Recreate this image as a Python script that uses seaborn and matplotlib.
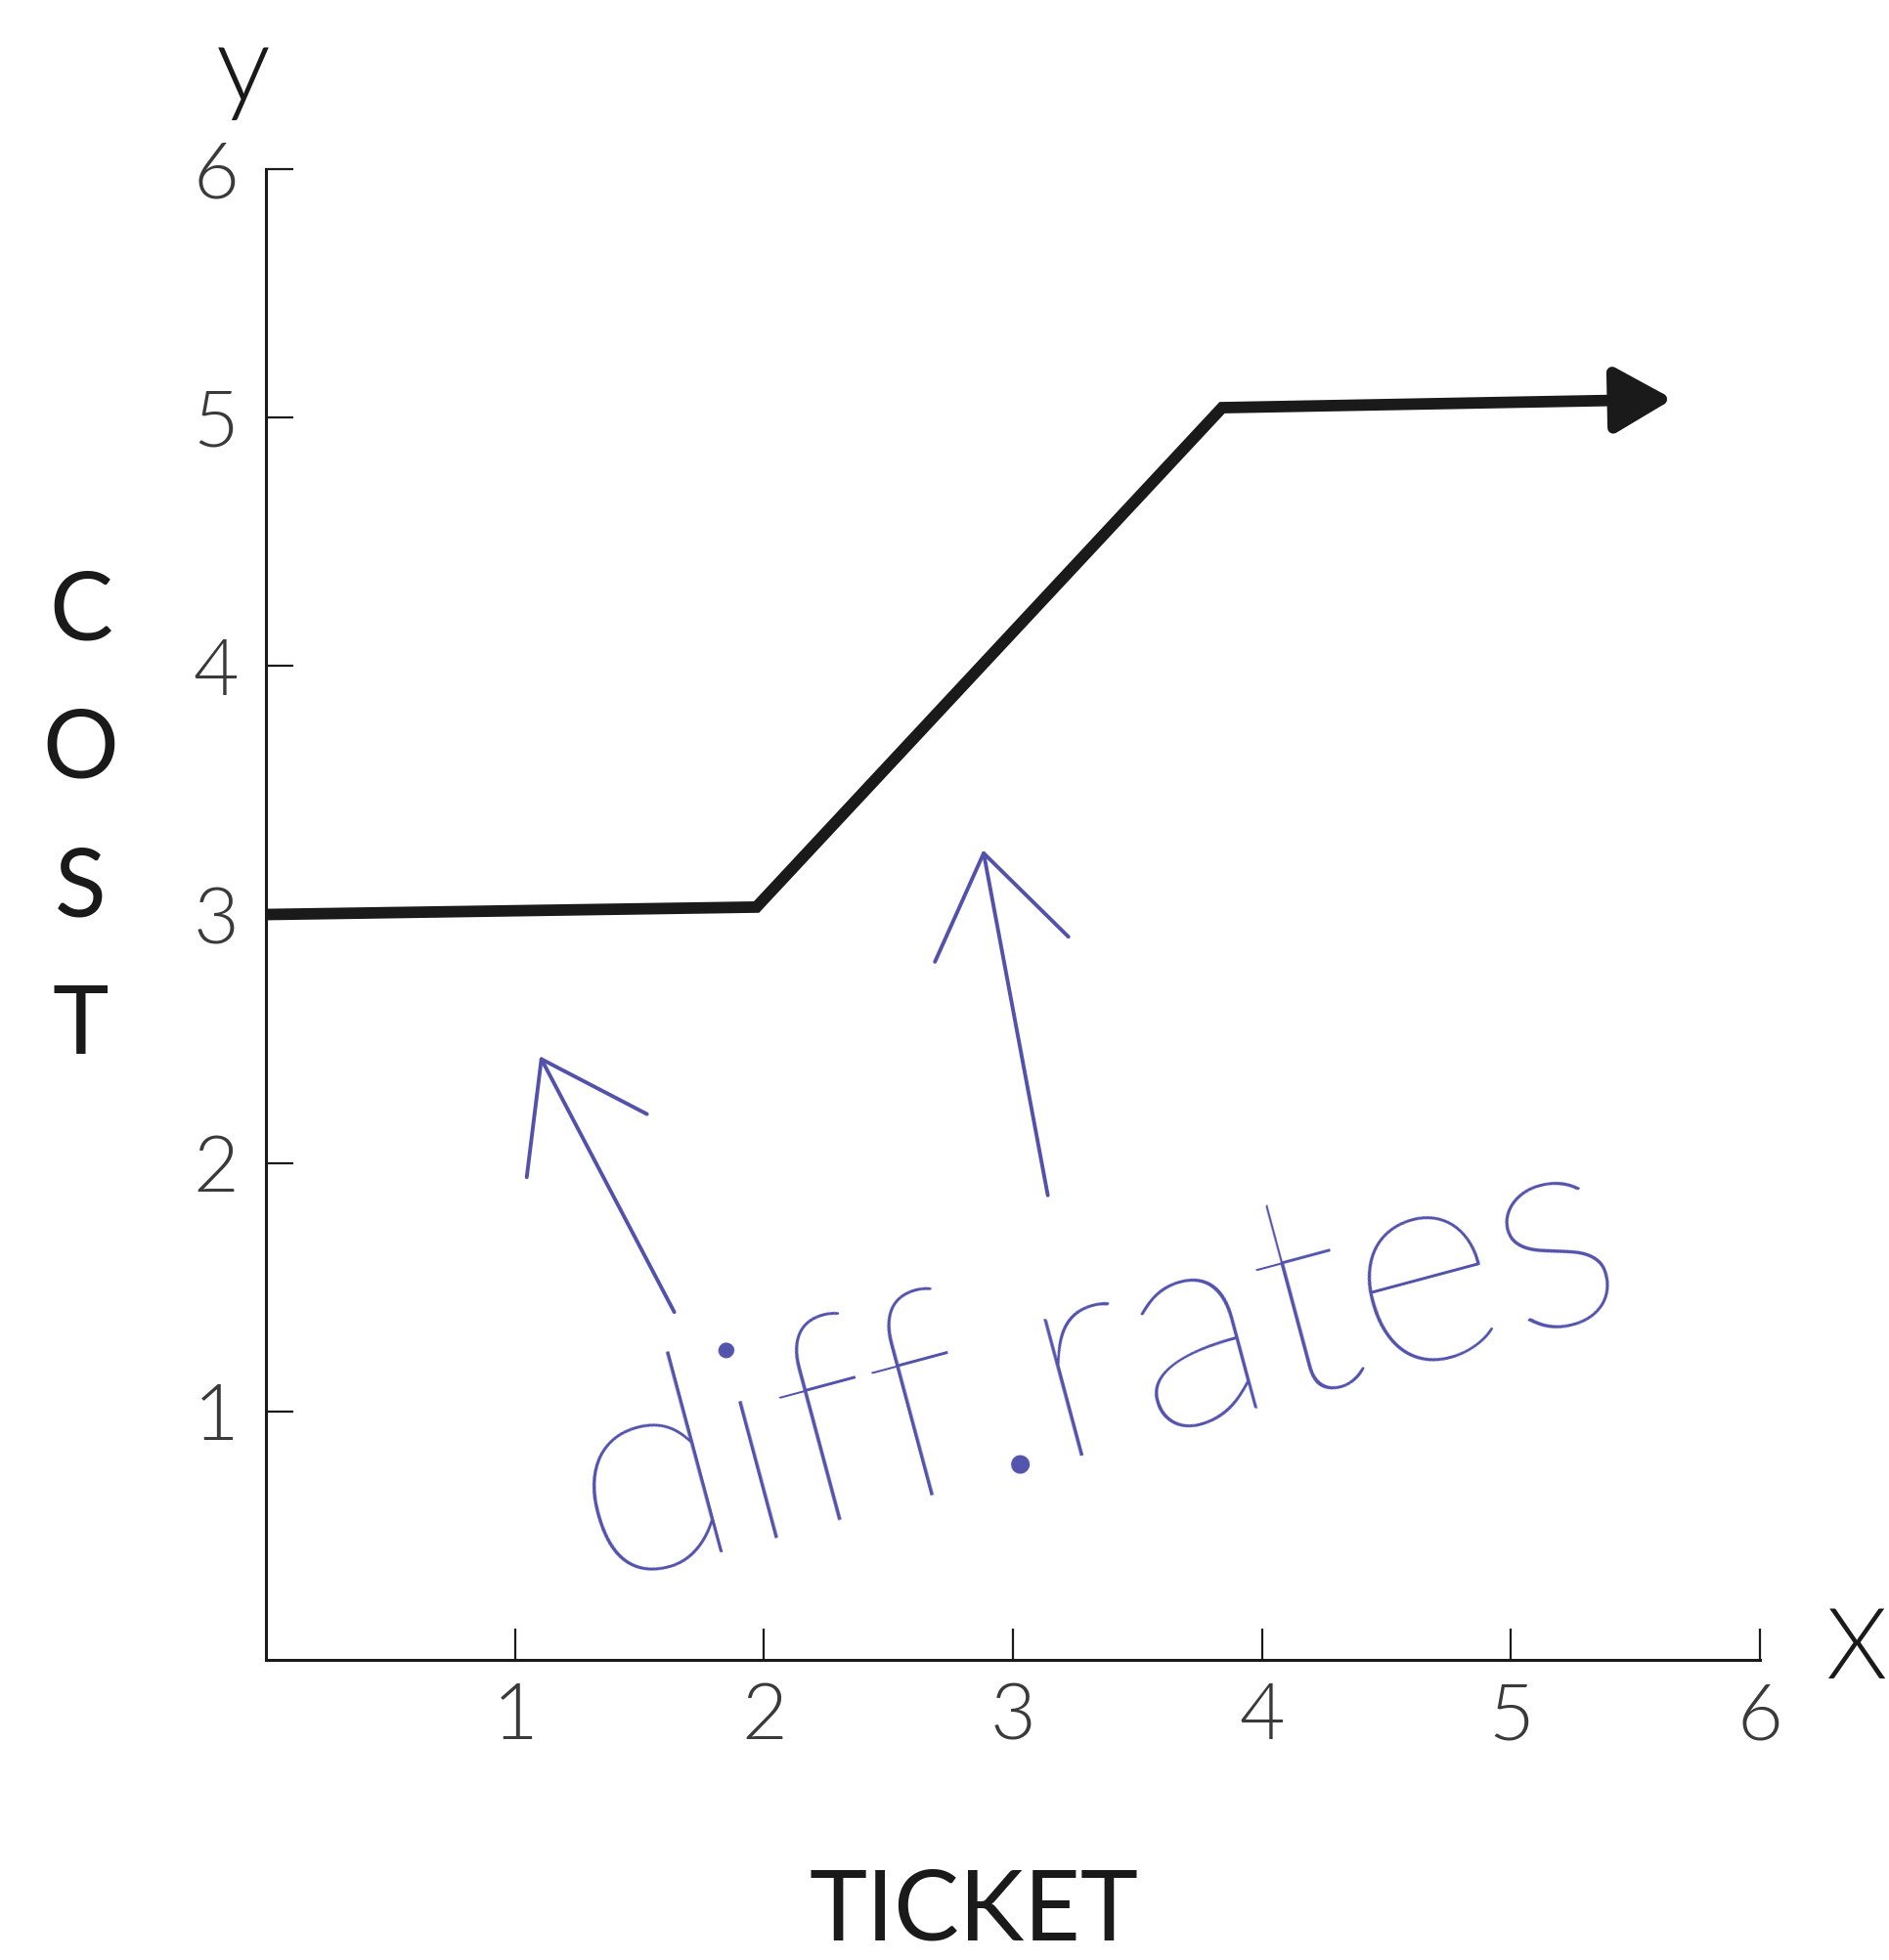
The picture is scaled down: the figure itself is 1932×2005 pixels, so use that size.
import seaborn as sns
import matplotlib.pyplot as plt
import pandas as pd

# values
ticket = [0.0, 1.97, 3.84, 5.45]
cost = [3.0, 3.03, 5.04, 5.07]
arrow_end = (5.65, 5.075)
x_ticks = [1, 2, 3, 4, 5, 6]
y_ticks = [1, 2, 3, 4, 5, 6]
note_text = "diff.rates"
note_arrows = [((1.64, 1.40), (1.10, 2.43)), ((3.14, 1.87), (2.88, 3.26))]

df = pd.DataFrame({"TICKET": ticket, "COST": cost})

sns.set_theme(style="white")
plt.rcParams['font.family'] = ['Lato', 'DejaVu Sans']

fig = plt.figure(figsize=(19.33, 20.05), dpi=100)
ax = fig.add_axes([0.1407, 0.1531, 0.7905, 0.7606])

ink = "#1a1a1a"
blue = "#5252ad"

sns.lineplot(data=df, x="TICKET", y="COST", ax=ax, color=ink, lw=8.5,
             sort=False, solid_joinstyle='miter')
ax.annotate("", xy=arrow_end, xytext=(ticket[-1] - 0.05, cost[-1]),
            arrowprops=dict(arrowstyle='-|>,head_length=0.42,head_width=0.24',
                            mutation_scale=85, lw=8.5, color=ink,
                            shrinkA=0, shrinkB=0))

ax.set_xlim(0, 6)
ax.set_ylim(0, 6)
ax.set_xticks(x_ticks)
ax.set_yticks(y_ticks)
ax.set_xticklabels([str(t) for t in x_ticks])
ax.set_yticklabels([str(t) for t in y_ticks])
ax.tick_params(axis='x', direction='in', length=23, width=1.6, color=ink,
               labelsize=58, labelcolor='#3a3a3a', pad=16, bottom=True)
ax.tick_params(axis='y', direction='in', length=20, width=1.6, color=ink,
               labelsize=58, labelcolor='#3a3a3a', pad=20, left=True)
for lab in ax.get_xticklabels() + ax.get_yticklabels():
    lab.set_fontweight(300)

sns.despine(ax=ax)
for side in ['left', 'bottom']:
    ax.spines[side].set_color(ink)
    ax.spines[side].set_linewidth(2.2)

ax.set_xlabel("TICKET", fontsize=72, color=ink, va='center')
ax.xaxis.set_label_coords(0.474, -0.169)
ax.set_ylabel("C\nO\nS\nT", fontsize=70, color=ink, rotation=0,
              linespacing=1.75, va='center', ha='center')
ax.yaxis.set_label_coords(-0.124, 0.563)

ax.text(-0.015, 1.065, "y", transform=ax.transAxes, fontsize=80,
        color=ink, ha='center', va='center', fontweight=300)
ax.text(1.065, 0.006, "X", transform=ax.transAxes, fontsize=72,
        color=ink, ha='center', va='center', fontweight=300)

# blue pen notes
for tail, tip in note_arrows:
    ax.annotate("", xy=tip, xytext=tail,
                arrowprops=dict(arrowstyle='->,head_length=0.72,head_width=0.5',
                                mutation_scale=100, lw=2.8, color=blue,
                                shrinkA=0, shrinkB=0))
ax.text(3.33, 1.18, note_text, fontsize=212, color=blue, rotation=15,
        ha='center', va='center', fontweight='light',
        rotation_mode='anchor')

fig.savefig("out.png", dpi=100)
